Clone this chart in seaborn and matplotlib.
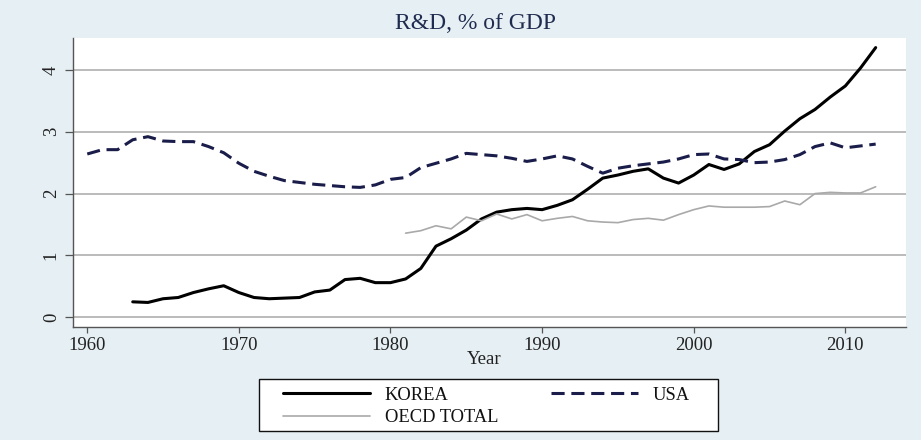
import numpy as np
import pandas as pd
import matplotlib
matplotlib.use("Agg")
import matplotlib.pyplot as plt
from matplotlib.lines import Line2D
from matplotlib.patches import Rectangle
import seaborn as sns

# ---------------- data ----------------
usa_years = list(range(1960, 2013))
usa_vals = [2.64, 2.71, 2.71, 2.87, 2.92, 2.85, 2.84, 2.84, 2.76, 2.66,
            2.49, 2.36, 2.28, 2.21, 2.18, 2.15, 2.13, 2.11, 2.10, 2.14,
            2.23, 2.26, 2.42, 2.49, 2.56, 2.65, 2.63, 2.61, 2.57, 2.52,
            2.56, 2.61, 2.56, 2.44, 2.33, 2.41, 2.45, 2.48, 2.51, 2.56,
            2.63, 2.64, 2.56, 2.55, 2.50, 2.51, 2.55, 2.63, 2.76, 2.82,
            2.74, 2.77, 2.80]

korea_years = list(range(1963, 2013))
korea_vals = [0.25, 0.24, 0.30, 0.32, 0.40, 0.46, 0.51,
              0.40, 0.32, 0.30, 0.31, 0.32, 0.41, 0.44, 0.61, 0.63, 0.56,
              0.56, 0.62, 0.79, 1.15, 1.27, 1.41, 1.59, 1.70, 1.74, 1.76,
              1.74, 1.81, 1.90, 2.07, 2.25, 2.30, 2.36, 2.40, 2.25, 2.17,
              2.30, 2.47, 2.39, 2.48, 2.68, 2.79, 3.01, 3.21, 3.36, 3.56,
              3.74, 4.03, 4.36]

oecd_years = list(range(1981, 2013))
oecd_vals = [1.36, 1.40, 1.48, 1.43, 1.62, 1.56, 1.67, 1.59, 1.66,
             1.56, 1.60, 1.63, 1.56, 1.54, 1.53, 1.58, 1.60, 1.57, 1.66,
             1.74, 1.80, 1.78, 1.78, 1.78, 1.79, 1.88, 1.82, 2.00, 2.02,
             2.01, 2.01, 2.11]

series_names = ["KOREA", "USA", "OECD TOTAL"]
x_ticks = [1960, 1970, 1980, 1990, 2000, 2010]
y_ticks = [0, 1, 2, 3, 4]
title_text = "R&D, % of GDP"
x_label = "Year"

df = pd.concat([
    pd.DataFrame({"Year": korea_years, "value": korea_vals, "country": "KOREA"}),
    pd.DataFrame({"Year": usa_years, "value": usa_vals, "country": "USA"}),
    pd.DataFrame({"Year": oecd_years, "value": oecd_vals, "country": "OECD TOTAL"}),
], ignore_index=True)

# ---------------- style ----------------
sns.set_theme(style="white")
plt.rcParams["font.family"] = ["Liberation Serif", "DejaVu Serif"]

W, H = 921, 440
bg = "#e6eff3"
colors = {"KOREA": "#000000", "USA": "#1a1d4a", "OECD TOTAL": "#a9a9a9"}
widths = {"KOREA": 2.2, "USA": 2.2, "OECD TOTAL": 1.2}
dashes = {"KOREA": "", "USA": (4.3, 2.2), "OECD TOTAL": ""}

fig = plt.figure(figsize=(W / 100, H / 100), dpi=100, facecolor=bg)
ax = fig.add_axes([72.7 / W, 1 - 327.5 / H, (905.7 - 72.7) / W, (327.5 - 37.7) / H])
ax.set_facecolor("white")

sns.lineplot(data=df, x="Year", y="value", hue="country", style="country",
             size="country", hue_order=series_names, style_order=series_names,
             size_order=series_names, palette=colors, dashes=dashes, sizes=widths,
             legend=False, ax=ax, estimator=None, sort=True)

ax.set_xlim(1959.04, 2013.98)
ax.set_ylim(-0.165, 4.52)
ax.set_xticks(x_ticks)
ax.set_yticks(y_ticks)
ax.set_xticklabels([str(t) for t in x_ticks])
ax.set_yticklabels([str(t) for t in y_ticks], rotation=90, va="center")

ax.grid(axis="y", color="#a8a8a8", linewidth=1.1)
ax.grid(axis="x", visible=False)
ax.set_axisbelow(True)

for s in ["top", "right"]:
    ax.spines[s].set_visible(False)
for s in ["left", "bottom"]:
    ax.spines[s].set_color("#555555")
    ax.spines[s].set_linewidth(1.0)

ax.tick_params(axis="y", which="major", left=True, length=5.8, width=0.9,
               color="#555555", pad=3.5, labelsize=13.5, labelcolor="#222222")
ax.tick_params(axis="x", which="major", bottom=True, length=4.3, width=0.9,
               color="#555555", pad=2.5, labelsize=13.5, labelcolor="#222222")

ax.set_ylabel("")
ax.set_xlabel(x_label, fontsize=13.5, color="#222222")
ax.xaxis.set_label_coords((483.7 - 72.7) / (905.7 - 72.7), -0.082)

fig.text(475 / W, 1 - 29.3 / H, title_text, ha="center", va="baseline",
         fontsize=17, color="#1f2b4f")

# ---------------- legend ----------------
handles = [
    Line2D([], [], color=colors["KOREA"], lw=widths["KOREA"]),
    Line2D([], [], color=colors["OECD TOTAL"], lw=widths["OECD TOTAL"]),
    Line2D([], [], color=colors["USA"], lw=widths["USA"], dashes=dashes["USA"]),
]
labels = ["KOREA", "OECD TOTAL", "USA"]
fig.add_artist(Rectangle((259 / W, 1 - 431 / H), (718 - 259) / W, (431 - 379) / H,
                         transform=fig.transFigure, facecolor="white",
                         edgecolor="#111111", linewidth=1.0, zorder=1))
leg = fig.legend(handles, labels, ncol=2, loc="upper left",
                 bbox_to_anchor=(283 / W, 1 - 386.5 / H), frameon=False,
                 fontsize=13.3, handlelength=4.7, handletextpad=0.8,
                 columnspacing=2.85, labelspacing=0.32, borderpad=0,
                 borderaxespad=0)
leg.set_zorder(2)
for t in leg.get_texts():
    t.set_color("#111111")

fig.savefig("out.png", dpi=100, facecolor=bg)
